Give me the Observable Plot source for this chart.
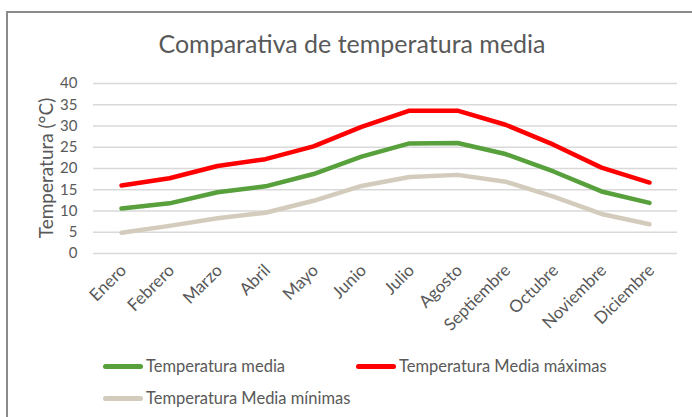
<!DOCTYPE html>
<html><head><meta charset="utf-8">
<script src="https://cdn.jsdelivr.net/npm/d3@7"></script>
<script src="https://cdn.jsdelivr.net/npm/@observablehq/plot@0.6"></script>
<style>
body{margin:0;background:#fff;font-family:Lato,"Open Sans",sans-serif;color:#595959;}
#wrap{position:relative;width:692px;height:417px;overflow:hidden;background:#fff;}
#frame{position:absolute;left:6px;top:11px;right:-10px;bottom:-10px;border-top:2px solid #8a8a8a;border-left:2px solid #8a8a8a;}
#title{position:absolute;left:6px;width:692px;top:28px;text-align:center;font-size:25px;line-height:30px;color:#595959;}
#ytitle{position:absolute;left:45px;top:168px;transform:translate(-50%,-50%) rotate(-90deg);white-space:nowrap;font-size:19px;color:#595959;}
#chart{position:absolute;left:0;top:70px;}
.leg{position:absolute;display:flex;align-items:center;font-size:16.5px;color:#595959;white-space:nowrap;}
.sw{display:inline-block;width:40px;height:5px;border-radius:3px;margin-right:3px;}
</style></head>
<body>
<div id="wrap">
  <div id="frame"></div>
  <div id="title">Comparativa de temperatura media</div>
  <div id="ytitle">Temperatura (°C)</div>
  <div id="chart"></div>
  <div id="legend"></div>
</div>
<script>
const meses = ["Enero","Febrero","Marzo","Abril","Mayo","Junio","Julio","Agosto","Septiembre","Octubre","Noviembre","Diciembre"];
const media   = [10.6, 11.8, 14.4, 15.8, 18.7, 22.8, 25.9, 26.0, 23.4, 19.3, 14.6, 11.9];
const maximas = [16.0, 17.7, 20.6, 22.2, 25.2, 29.8, 33.6, 33.6, 30.3, 25.6, 20.2, 16.7];
const minimas = [4.9, 6.5, 8.3, 9.6, 12.4, 15.9, 18.0, 18.5, 16.9, 13.4, 9.3, 6.9];
const yTicks = [0,5,10,15,20,25,30,35,40];
const series = ["Temperatura media","Temperatura Media máximas","Temperatura Media mínimas"];
const colores = ["#57a03c","#ff0000","#d3ccbc"];

const data = [];
[media, maximas, minimas].forEach((arr, s) => arr.forEach((v, i) => data.push({mes: meses[i], valor: v, serie: series[s]})));

const chart = Plot.plot({
  width: 692, height: 300,
  marginTop: 13, marginBottom: 117, marginLeft: 93, marginRight: 15,
  style: {color: "#595959", fontFamily: "Lato, 'Open Sans', sans-serif", background: "transparent", overflow: "visible"},
  x: {type: "point", domain: meses, padding: 0.5},
  y: {domain: [0, 40]},
  color: {domain: series, range: colores},
  marks: [
    Plot.gridY(yTicks, {stroke: "#d9d9d9", strokeOpacity: 1, strokeWidth: 1.3}),
    Plot.axisY(yTicks, {tickSize: 0, tickPadding: 16, fontSize: 15, label: null}),
    Plot.axisX({tickSize: 0, tickRotate: -45, tickPadding: 14, dx: 2, fontSize: 17, label: null}),
    Plot.line(data, {x: "mes", y: "valor", z: "serie", stroke: "serie", strokeWidth: 4.5, strokeLinecap: "round", strokeLinejoin: "round"})
  ]
});
document.getElementById("chart").appendChild(chart);

const legPos = [[103, 366], [356, 366], [103, 398]];
const legend = document.getElementById("legend");
series.forEach((s, i) => {
  const d = document.createElement("div");
  d.className = "leg";
  d.style.left = legPos[i][0] + "px";
  d.style.top = (legPos[i][1] - 10) + "px";
  d.style.height = "20px";
  const sw = document.createElement("span");
  sw.className = "sw";
  sw.style.background = colores[i];
  d.appendChild(sw);
  d.appendChild(document.createTextNode(s));
  legend.appendChild(d);
});
</script>
</body></html>
